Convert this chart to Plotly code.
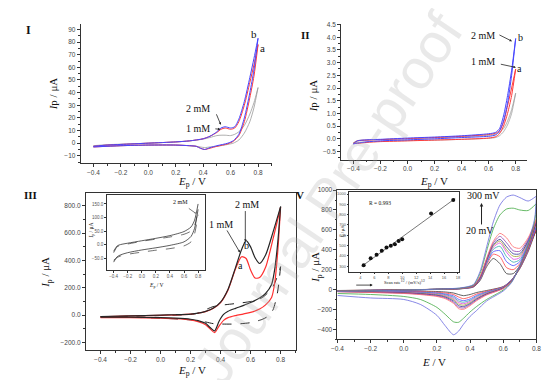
import plotly.graph_objects as go
import numpy as np

W, H = 554, 380

# ---------------- Panel I (CV, two concentrations + blank) ----------------
I_EF = [-0.4, -0.3, -0.2, 0.0, 0.2, 0.3, 0.4, 0.45, 0.5, 0.53, 0.56, 0.6, 0.63, 0.66, 0.7, 0.74, 0.77, 0.8]
I_blue_f = [-2.5, -1.5, -1.0, 0.0, 1.0, 1.8, 3.5, 5.5, 9.0, 12.0, 13.0, 12.0, 13.0, 19.0, 33.0, 52.0, 67.0, 83.0]
I_red_f = [-2.5, -1.5, -1.0, 0.0, 1.0, 1.8, 3.5, 5.5, 8.5, 11.0, 12.0, 11.0, 12.0, 17.0, 30.0, 48.0, 62.0, 78.0]
I_gray_f = [-2.0, -1.2, -0.8, 0.0, 1.0, 1.8, 3.2, 4.5, 6.0, 6.3, 6.3, 6.0, 7.0, 9.0, 14.0, 23.0, 32.0, 44.0]
I_ER = [0.8, 0.77, 0.74, 0.7, 0.66, 0.62, 0.58, 0.5, 0.45, 0.41, 0.38, 0.35, 0.3, 0.2, 0.0, -0.2, -0.4]
I_blue_r = [83, 58, 40, 20, 7, 2, 0, -2, -3.5, -5, -4, -2.5, -2, -1.5, -1.5, -2, -3]
I_red_r = [78, 53, 36, 17, 6, 1.5, -0.5, -2.5, -4, -5, -4, -2.5, -2, -1.5, -1.5, -2, -3]
I_gray_r = [44, 28, 17, 8, 2.5, 0, -1, -2.5, -3, -3.5, -3, -2.5, -2, -1.5, -1.5, -2, -2.5]

# ---------------- Panel II ----------------
II_EF = [-0.4, -0.37, -0.3, -0.2, 0.0, 0.2, 0.4, 0.6, 0.65, 0.68, 0.71, 0.74, 0.77, 0.8]
II_blue_f = [-0.2, -0.08, -0.04, -0.02, 0.03, 0.07, 0.12, 0.2, 0.25, 0.4, 0.9, 1.7, 2.7, 3.95]
II_red_f = [-0.18, -0.08, -0.05, -0.03, 0.01, 0.05, 0.1, 0.17, 0.22, 0.32, 0.65, 1.3, 2.0, 2.75]
II_gray_f = [-0.15, -0.07, -0.05, -0.03, 0.0, 0.04, 0.08, 0.14, 0.18, 0.25, 0.4, 0.7, 1.15, 1.8]
II_ER = [0.8, 0.77, 0.74, 0.71, 0.68, 0.65, 0.6, 0.4, 0.2, 0.0, -0.2, -0.3, -0.37, -0.4]
II_blue_r = [3.95, 2.5, 1.4, 0.7, 0.3, 0.15, 0.1, 0.05, 0.0, -0.04, -0.08, -0.12, -0.17, -0.2]
II_red_r = [2.75, 1.7, 1.0, 0.5, 0.2, 0.08, 0.03, -0.02, -0.05, -0.08, -0.11, -0.14, -0.18, -0.18]
II_gray_r = [1.8, 1.0, 0.55, 0.28, 0.12, 0.05, 0.02, -0.02, -0.05, -0.07, -0.1, -0.12, -0.14, -0.15]

# ---------------- Panel III ----------------
III_EF = [-0.4, -0.2, 0.0, 0.1, 0.2, 0.25, 0.3, 0.35, 0.4, 0.45, 0.5, 0.54, 0.57, 0.6, 0.63, 0.66, 0.7, 0.75, 0.8]
III_black_f = [-10, -5, 0, 3, 8, 15, 28, 50, 95, 190, 350, 480, 545, 500, 420, 378, 440, 610, 795]
III_red_f = [-12, -6, -1, 2, 7, 14, 26, 48, 92, 185, 340, 428, 415, 330, 272, 275, 350, 560, 790]
III_ER = [0.8, 0.78, 0.76, 0.74, 0.7, 0.66, 0.6, 0.55, 0.5, 0.45, 0.42, 0.39, 0.36, 0.33, 0.3, 0.25, 0.2, 0.1, 0.0, -0.2, -0.4]
III_black_r = [795, 520, 330, 225, 160, 125, 92, 70, 50, 28, 5, -45, -115, -90, -60, -40, -30, -22, -18, -15, -15]
III_red_r = [790, 450, 230, 130, 75, 45, 20, 8, -3, -18, -38, -80, -128, -100, -70, -48, -35, -26, -22, -18, -18]
III_blank_EF = [-0.4, -0.2, 0.0, 0.2, 0.25, 0.3, 0.35, 0.4, 0.5, 0.6, 0.68, 0.75, 0.8]
III_blank_f = [-12, -8, -3, 5, 15, 40, 62, 72, 85, 100, 130, 210, 355]
III_blank_ER = [0.8, 0.78, 0.75, 0.72, 0.68, 0.6, 0.5, 0.4, 0.35, 0.3, 0.2, 0.0, -0.2, -0.4]
III_blank_r = [355, 170, 40, -5, -30, -55, -65, -65, -62, -50, -35, -22, -16, -14]

# Panel III inset
IN3_E = [-0.4, -0.35, -0.3, -0.2, 0.0, 0.2, 0.4, 0.6, 0.7, 0.75, 0.8]
IN3_solid_up = [-25, -5, 0, 5, 14, 23, 33, 48, 65, 90, 150]
IN3_solid_lo = [-65, -45, -38, -30, -20, -12, -3, 10, 30, 60, 130]
IN3_dash_up = [-30, -8, -3, 2, 12, 20, 28, 38, 50, 70, 125]
IN3_dash_lo = [-58, -48, -42, -36, -28, -21, -15, -5, 10, 40, 110]

# ---------------- Panel V (scan-rate study) ----------------
V_rates = [20, 30, 40, 50, 60, 70, 80, 90, 100, 200, 300]
V_colors = ['#3a3a3a', '#ff4040', '#4a4aff', '#30a8a8', '#e040e0', '#a0a030',
            '#303090', '#9040b0', '#ff6a6a', '#40a840', '#6a6ae0']
V_EF = [-0.4, -0.2, 0.0, 0.2, 0.35, 0.42, 0.46, 0.50, 0.54, 0.58, 0.62, 0.66, 0.70, 0.75, 0.80]
V_fwd = [
    [-10, -6, -2, 2, 8, 25, 90, 230, 312, 260, 160, 160, 240, 410, 600],
    [-11, -7, -2, 2, 9, 28, 100, 250, 355, 330, 220, 200, 260, 420, 615],
    [-12, -8, -3, 2, 10, 30, 105, 265, 380, 390, 280, 240, 280, 440, 635],
    [-12, -8, -3, 2, 10, 32, 110, 275, 405, 435, 330, 275, 300, 455, 650],
    [-13, -9, -3, 2, 11, 33, 115, 285, 425, 468, 375, 305, 320, 470, 660],
    [-13, -9, -3, 2, 11, 34, 118, 292, 440, 488, 400, 335, 340, 480, 670],
    [-14, -10, -4, 2, 12, 35, 120, 298, 452, 505, 430, 360, 360, 490, 680],
    [-14, -10, -4, 2, 12, 36, 125, 305, 468, 535, 470, 390, 385, 505, 690],
    [-15, -11, -4, 2, 13, 38, 130, 315, 485, 565, 520, 430, 415, 520, 710],
    [-16, -12, -5, 3, 15, 45, 160, 390, 610, 750, 810, 818, 800, 795, 865],
    [-18, -14, -6, 3, 18, 50, 180, 430, 680, 850, 930, 950, 925, 890, 940],
]
V_ER = [0.80, 0.79, 0.75, 0.70, 0.65, 0.60, 0.50, 0.44, 0.40, 0.36, 0.33, 0.30, 0.25, 0.20, 0.10, 0.0, -0.2, -0.4]
V_rev = [
    [600, 560, 380, 210, 95, 30, -10, -30, -50, -62, -50, -35, -25, -20, -16, -14, -12, -10],
    [615, 575, 390, 215, 95, 28, -18, -45, -75, -92, -75, -50, -35, -28, -22, -18, -15, -12],
    [635, 590, 400, 220, 95, 25, -25, -58, -95, -112, -98, -65, -45, -35, -27, -22, -18, -14],
    [650, 605, 405, 222, 92, 22, -30, -68, -108, -128, -115, -78, -52, -40, -31, -25, -20, -15],
    [660, 615, 410, 224, 90, 20, -35, -78, -120, -143, -130, -90, -60, -46, -35, -28, -22, -17],
    [670, 625, 415, 226, 88, 18, -40, -88, -132, -158, -146, -102, -68, -52, -39, -31, -24, -18],
    [680, 635, 420, 228, 86, 15, -45, -96, -142, -172, -162, -115, -76, -58, -43, -34, -26, -20],
    [690, 645, 425, 230, 84, 12, -50, -104, -152, -186, -177, -128, -84, -64, -47, -37, -28, -21],
    [710, 660, 430, 232, 82, 10, -55, -112, -162, -200, -192, -140, -92, -70, -51, -40, -30, -22],
    [865, 690, 450, 238, 75, -5, -100, -170, -225, -290, -330, -325, -250, -180, -100, -70, -50, -40],
    [940, 720, 470, 245, 70, -15, -115, -210, -270, -350, -420, -455, -365, -260, -150, -100, -85, -60],
]
# Panel V inset: peak current vs sqrt(scan rate)
V_peak = [310, 377, 412, 450, 482, 498, 514, 546, 562, 811, 942]

fig = go.Figure()


def line(xa, ya, x, y, color, width=1.0, dash=None, shape='spline', smoothing=0.7):
    fig.add_trace(go.Scatter(
        x=x, y=y, mode='lines', xaxis=xa, yaxis=ya,
        line=dict(color=color, width=width, dash=dash, shape=shape, smoothing=smoothing),
        showlegend=False, hoverinfo='skip'))


def cv(xa, ya, ef, f, er, r, color, width=1.0, dash=None):
    line(xa, ya, ef, f, color, width, dash)
    line(xa, ya, er, r, color, width, dash)


# Panel I
cv('x', 'y', I_EF, I_gray_f, I_ER, I_gray_r, '#9a9a9a', 0.8)
cv('x', 'y', I_EF, I_red_f, I_ER, I_red_r, '#ff3a3a', 1.0)
cv('x', 'y', I_EF, I_blue_f, I_ER, I_blue_r, '#4646ff', 1.0)
# Panel II
cv('x2', 'y2', II_EF, II_gray_f, II_ER, II_gray_r, '#a0a0a0', 0.8)
cv('x2', 'y2', II_EF, II_red_f, II_ER, II_red_r, '#ff3a3a', 1.0)
cv('x2', 'y2', II_EF, II_blue_f, II_ER, II_blue_r, '#4646ff', 1.0)
# Panel III
cv('x3', 'y3', III_blank_EF, III_blank_f, III_blank_ER, III_blank_r, '#222222', 1.0, 'dash')
cv('x3', 'y3', III_EF, III_red_f, III_ER, III_red_r, '#ff3030', 1.2)
cv('x3', 'y3', III_EF, III_black_f, III_ER, III_black_r, '#262626', 1.2)
# Panel III inset
line('x4', 'y4', IN3_E, IN3_solid_up, '#333333', 0.8)
line('x4', 'y4', IN3_E, IN3_solid_lo, '#333333', 0.8)
line('x4', 'y4', IN3_E, IN3_dash_up, '#333333', 0.7, 'dash')
line('x4', 'y4', IN3_E, IN3_dash_lo, '#333333', 0.7, 'dash')
# Panel V
for k in range(len(V_rates)):
    cv('x5', 'y5', V_EF, V_fwd[k], V_ER, V_rev[k], V_colors[k], 0.8)
# Panel V inset
sq = np.sqrt(np.array(V_rates, dtype=float))
p = np.polyfit(sq, V_peak, 1)
xfit = np.array([4.2, 17.6])
fig.add_trace(go.Scatter(x=xfit, y=np.polyval(p, xfit), mode='lines', xaxis='x6', yaxis='y6',
                         line=dict(color='#555', width=0.8), showlegend=False, hoverinfo='skip'))
fig.add_trace(go.Scatter(x=sq, y=V_peak, mode='markers', xaxis='x6', yaxis='y6',
                         marker=dict(color='#111', size=4), showlegend=False, hoverinfo='skip'))


def xd(p0, p1):
    return [p0 / W, p1 / W]


def yd(top, bot):
    return [1 - bot / H, 1 - top / H]


TF = dict(family='Liberation Sans', size=6.5, color='#444')
TFS = dict(family='Liberation Sans', size=4.5, color='#555')


def axis(dom, rng, anchor, tick0, dtick, fmt, minor=None, mirror=False, font=TF, tl=3):
    d = dict(domain=dom, range=rng, anchor=anchor, showline=True, linecolor='#333', linewidth=0.9,
             ticks='outside', ticklen=tl, tickwidth=0.8, tickcolor='#333', showgrid=False,
             zeroline=False, tickfont=font, tick0=tick0, dtick=dtick, tickformat=fmt,
             fixedrange=True, mirror=mirror, tickmode='linear')
    if minor:
        d['minor'] = dict(ticks='outside', ticklen=tl * 0.6, dtick=minor, tickcolor='#333', tickwidth=0.6)
    return d


fig.update_layout(
    width=W, height=H, margin=dict(l=0, r=0, t=0, b=0),
    paper_bgcolor='white', plot_bgcolor='white', showlegend=False,
    xaxis=axis(xd(68, 263), [-0.493, 0.9], 'y', -0.4, 0.2, '.1f', 0.1),
    yaxis=axis(yd(12.5, 153), [-16, 94], 'x', -10, 10, 'd', 5),
    xaxis2=axis(xd(333.7, 523.7), [-0.491, 0.886], 'y2', -0.4, 0.2, '.1f', 0.1),
    yaxis2=axis(yd(12, 149.3), [-0.823, 4.527], 'x2', -0.5, 0.5, '.1f', 0.25),
    xaxis3=axis(xd(73.3, 287.3), [-0.498, 0.9], 'y3', -0.4, 0.2, '.1f', 0.1, mirror=True),
    yaxis3=axis(yd(182.7, 341.7), [-256, 896], 'x3', -200, 200, '.1f', 100, mirror=True),
    xaxis4=axis(xd(95, 195), [-0.493, 0.9], 'y4', -0.4, 0.2, '.1f', None, mirror=True, font=TFS, tl=2),
    yaxis4=axis(yd(185, 260.7), [-93.9, 182.9], 'x4', -50, 50, '.1f', None, mirror=True, font=TFS, tl=2),
    xaxis5=axis(xd(330, 533), [-0.4, 0.8], 'y5', -0.4, 0.2, '.1f', 0.1, mirror=True),
    yaxis5=axis(yd(180, 330.7), [-500, 1000], 'x5', -400, 200, 'd', 100, mirror=True),
    xaxis6=axis(xd(342, 453.7), [2.4, 18.1], 'y6', 4, 2, 'd', None, mirror=True,
                font=dict(family='Liberation Sans', size=4, color='#555'), tl=1.5),
    yaxis6=axis(yd(182.3, 262.7), [245, 1016], 'x6', 300, 100, 'd', None, mirror=True,
                font=dict(family='Liberation Sans', size=4, color='#555'), tl=1.5),
)

SERIF = 'Liberation Serif'
ann = []


def txt(px, py, s, size=11, angle=0, bold=False, color='#111', family=SERIF):
    if bold:
        s = '<b>' + s + '</b>'
    ann.append(dict(x=px / W, y=1 - py / H, xref='paper', yref='paper', text=s, showarrow=False,
                    textangle=angle, font=dict(family=family, size=size, color=color),
                    xanchor='center', yanchor='middle'))


def arrow(x0, y0, x1, y1, head=2, size=0.6, width=0.8):
    ann.append(dict(x=x1 / W, y=1 - y1 / H, xref='paper', yref='paper',
                    ax=x0 - x1, ay=y0 - y1, axref='pixel', ayref='pixel', text='',
                    showarrow=True, arrowhead=head, arrowsize=size, arrowwidth=width,
                    arrowcolor='#222', standoff=0, startstandoff=0))


# Watermark (drawn first so labels sit on top)
ann.append(dict(x=320 / W, y=1 - 188 / H, xref='paper', yref='paper', text='Journal Pre-proof',
                showarrow=False, textangle=-56,
                font=dict(family='Liberation Sans', size=56, color='rgba(170,170,170,0.26)')))

# Panel I labels
txt(15, 18, 'I', 12, bold=True)
txt(245, 22.5, 'b', 11)
txt(253.5, 36, 'a', 11)
txt(188, 97.5, '2 mM', 10)
txt(188, 117.5, '1 mM', 10)
arrow(206, 102, 211, 114)
arrow(204, 118, 210.5, 118.5)
txt(40, 83, '<i>I</i>p / μA', 11, angle=-90)
txt(181.7, 172, '<i>E</i><sub>p</sub> / V', 11)
# Panel II labels
txt(297, 23, 'II', 11, bold=True)
txt(478.7, 24, '2 mM', 10)
txt(516.5, 26, 'b', 10)
txt(479, 50.5, '1 mM', 10)
txt(516, 57.5, 'a', 10)
arrow(494, 22.5, 508, 29.5)
arrow(495.5, 52.5, 512, 56)
txt(305.3, 85, '<i>I</i>p / μA', 11, angle=-90)
txt(428.7, 172, '<i>E</i><sub>p</sub> / V', 11)
# Panel III labels
txt(16.7, 185, 'III', 11, bold=True)
txt(237.3, 195, '2 mM', 10)
txt(210.7, 215, '1 mM', 10)
txt(237.5, 236, 'b', 10)
txt(231, 256, 'a', 10)
arrow(236, 200, 236, 232)
arrow(216.7, 219.5, 230.5, 243)
txt(33.3, 263, '<i>I</i><sub>p</sub> / μA', 11, angle=-90)
txt(181.7, 363, '<i>E</i><sub>p</sub> / V', 11)
txt(170, 192.3, '2 mM', 6)
arrow(177, 197.5, 185.5, 203.5, size=0.4, width=0.6)
txt(79.5, 221, '<i>I</i><sub>p</sub> / μA', 5.5, angle=-90)
txt(145, 276, '<i>E</i><sub>p</sub> / V', 5.5)
# Panel V labels
txt(292, 185, 'V', 11, bold=True)
txt(479, 185, '300 mV', 10)
txt(475.5, 220.7, '20 mV', 10)
arrow(477, 216, 477, 193, size=0.7, width=1)
arrow(348, 276, 366, 276, size=0.7, width=0.8)
txt(428.7, 354, '<i>E</i> / V', 11)
txt(308.7, 258, '<i>I</i><sub>p</sub> / μA', 11, angle=-90)
txt(373, 193, 'R = 0.993', 5.5)
txt(398, 272.5, 'Scan rate<sup>1/2</sup> / (mV/s)<sup>1/2</sup>', 4.5)
txt(335.5, 222, '<i>I</i><sub>p</sub> / μA', 4.5, angle=-90)

fig.update_layout(annotations=ann)
fig.write_html('out.html')
